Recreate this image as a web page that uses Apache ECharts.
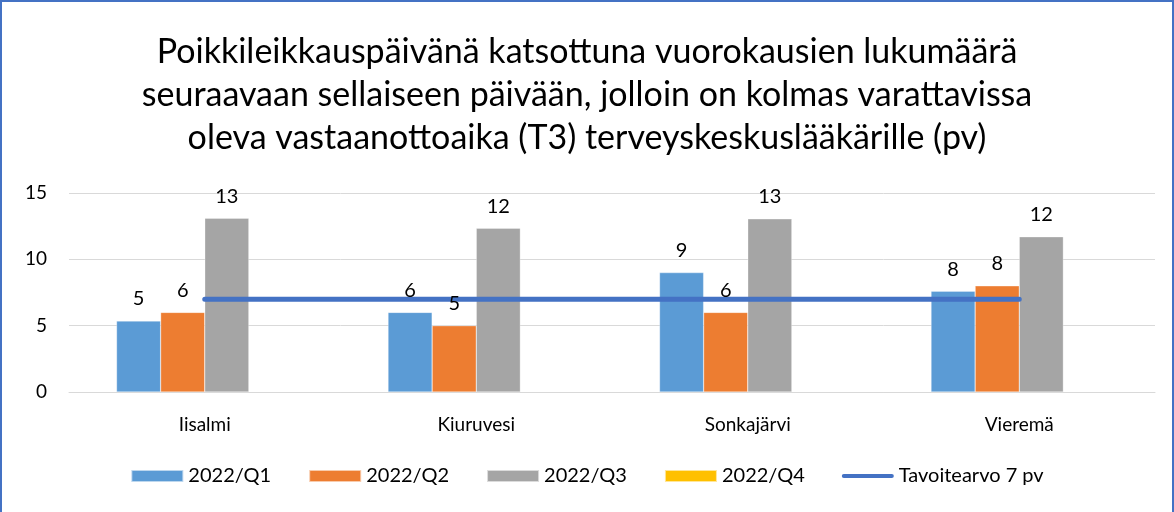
<!DOCTYPE html>
<html>
<head>
<meta charset="utf-8">
<script src="https://cdn.jsdelivr.net/npm/echarts@6/dist/echarts.min.js"></script>
<style>
html,body{margin:0;padding:0;background:#fff;}
#frame{position:absolute;left:0;top:0;width:1174px;height:512px;box-sizing:border-box;border:2px solid #4472C4;border-bottom:none;background:#fff;}
#chart{position:absolute;left:0;top:0;width:1174px;height:512px;}
</style>
</head>
<body>
<div id="frame"></div>
<div id="chart"></div>
<script>
const titleText = 'Poikkileikkauspäivänä katsottuna vuorokausien lukumäärä\nseuraavaan sellaiseen päivään, jolloin on kolmas varattavissa\noleva vastaanottoaika (T3) terveyskeskuslääkärille (pv)';
const categories = ['Iisalmi', 'Kiuruvesi', 'Sonkajärvi', 'Vieremä'];
const q1 = [5.35, 6.0, 9.0, 7.6];
const q2 = [6.0, 5.0, 6.0, 8.0];
const q3 = [13.1, 12.35, 13.05, 11.7];
const q4 = [null, null, null, null];
const target = [7, 7, 7, 7];
const seriesNames = ['2022/Q1', '2022/Q2', '2022/Q3', '2022/Q4', 'Tavoitearvo 7 pv'];
const yTicks = {min: 0, max: 15, interval: 5};

const FONT = 'Lato';
const chart = echarts.init(document.getElementById('chart'), null, {renderer: 'canvas'});
const labelCfg = {
  show: true, position: 'top', distance: 12, color: '#000',
  fontFamily: FONT, fontSize: 20,
  formatter: p => (p.value == null ? '' : Math.round(p.value).toString())
};
function barSeries(name, data, color) {
  return {
    name, type: 'bar', data, barGap: '0%', barCategoryGap: '35%', z: 2,
    itemStyle: {color, borderColor: 'rgba(255,255,255,0.6)', borderWidth: 0.5},
    label: {show: false}
  };
}
// transparent copies on an identical hidden axis pair, carrying the value labels above the line
function labelSeries(name, data) {
  return {
    name: name + ' ', type: 'bar', data, barGap: '0%', barCategoryGap: '35%', z: 10,
    xAxisIndex: 1, yAxisIndex: 1, silent: true,
    itemStyle: {color: 'rgba(0,0,0,0)'},
    label: labelCfg
  };
}
const yAxisBase = {
  type: 'value', min: yTicks.min, max: yTicks.max, interval: yTicks.interval,
  axisLine: {show: false}, axisTick: {show: false}
};
chart.setOption({
  backgroundColor: 'transparent',
  animation: false,
  title: {
    text: titleText, left: 'center', top: 26,
    textStyle: {fontFamily: FONT, fontSize: 34, fontWeight: 'normal', color: '#000', lineHeight: 43, align: 'center'}
  },
  grid: {left: 69, right: 19, top: 193, bottom: 120, containLabel: false},
  legend: {
    bottom: 21, left: 'center', itemWidth: 52, itemHeight: 12, itemGap: 37,
    textStyle: {fontFamily: FONT, fontSize: 20, color: '#000', padding: [0, 0, 0, 0]},
    data: [
      {name: seriesNames[0], icon: 'rect'},
      {name: seriesNames[1], icon: 'rect'},
      {name: seriesNames[2], icon: 'rect'},
      {name: seriesNames[3], icon: 'rect'},
      {name: seriesNames[4], icon: 'path://M2,0 L98,0 A2,2 0 0 1 98,8 L2,8 A2,2 0 0 1 2,0 Z', itemStyle: {color: '#4472C4'}}
    ]
  },
  xAxis: [{
    type: 'category', data: categories,
    axisLine: {lineStyle: {color: '#D9D9D9', width: 1}},
    axisTick: {show: false},
    axisLabel: {fontFamily: FONT, fontSize: 19, color: '#000', margin: 23}
  }, {
    type: 'category', data: categories, show: false
  }],
  yAxis: [Object.assign({}, yAxisBase, {
    splitLine: {lineStyle: {color: '#D9D9D9', width: 1}},
    axisLabel: {fontFamily: FONT, fontSize: 19, color: '#000', margin: 22}
  }), Object.assign({}, yAxisBase, {show: false, splitLine: {show: false}})],
  series: [
    barSeries(seriesNames[0], q1, '#5B9BD5'),
    barSeries(seriesNames[1], q2, '#ED7D31'),
    barSeries(seriesNames[2], q3, '#A5A5A5'),
    barSeries(seriesNames[3], q4, '#FFC000'),
    {
      name: seriesNames[4], type: 'line', data: target, symbol: 'none',
      lineStyle: {color: '#4472C4', width: 5, cap: 'round'},
      itemStyle: {color: '#4472C4'}, z: 5
    },
    labelSeries(seriesNames[0], q1),
    labelSeries(seriesNames[1], q2),
    labelSeries(seriesNames[2], q3),
    labelSeries(seriesNames[3], q4)
  ]
});
</script>
</body>
</html>
